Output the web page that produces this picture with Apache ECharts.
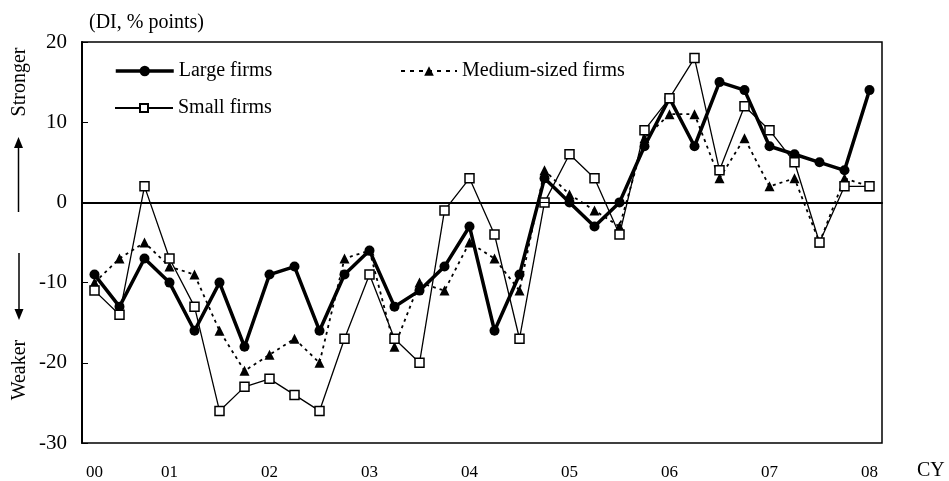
<!DOCTYPE html>
<html>
<head>
<meta charset="utf-8">
<script src="https://cdn.jsdelivr.net/npm/echarts@6/dist/echarts.min.js"></script>
<style>
html,body{margin:0;padding:0;background:#fff;}
#chart{width:949px;height:481px;}
</style>
</head>
<body>
<div id="chart"></div>
<script>
// Tick labels (years) and the data index at which each sits
var tickLabels = ['00','01','02','03','04','05','06','07','08'];
var tickIndex = [0, 3, 7, 11, 15, 19, 23, 27, 31];

// Series values (DI, % points)
var largeFirms = [-9,-13,-7,-10,-16,-10,-18,-9,-8,-16,-9,-6,-13,-11,-8,-3,-16,-9,3,0,-3,0,7,13,7,15,14,7,6,5,4,14];
var mediumFirms = [-10,-7,-5,-8,-9,-16,-21,-19,-17,-20,-7,-6,-18,-10,-11,-5,-7,-11,4,1,-1,-3,8,11,11,3,8,2,3,-5,3,2];
var smallFirms = [-11,-14,2,-7,-13,-26,-23,-22,-24,-26,-17,-9,-17,-20,-1,3,-4,-17,0,6,3,-4,9,13,18,4,12,9,5,-5,2,2];

var categories = largeFirms.map(function(_, i){
  var k = tickIndex.indexOf(i);
  return k >= 0 ? tickLabels[k] : '';
});

var FONT = 'Liberation Serif, Times New Roman, serif';
var chart = echarts.init(document.getElementById('chart'), null, {renderer:'canvas'});

var legendText = {fontFamily: FONT, fontSize: 20, color: '#000'};

var option = {
  animation: false,
  backgroundColor: '#fff',
  title: {
    text: '(DI, % points)',
    left: 84, top: 8,
    textStyle: {fontFamily: FONT, fontSize: 20, fontWeight: 'normal', color: '#000'}
  },
  grid: {
    left: 82, right: 67, top: 42, bottom: 34,
    show: true, borderColor: '#000', borderWidth: 1.5, backgroundColor: 'transparent'
  },
  legend: [
    {data: ['Large firms'], left: 114, top: 61, padding: 0, itemWidth: 58, itemHeight: 13,
     lineStyle: {width: 3.5}, textStyle: legendText, selectedMode: false},
    {data: ['Small firms'], left: 114, top: 98, padding: 0, itemWidth: 58, itemHeight: 10,
     textStyle: legendText, selectedMode: false},
    {data: ['Medium-sized firms'], left: 400, top: 61, padding: 0, itemWidth: 56, itemHeight: 12,
     lineStyle: {type: [4, 5]}, textStyle: legendText, selectedMode: false}
  ],
  xAxis: {
    type: 'category',
    data: categories,
    boundaryGap: true,
    axisLine: {lineStyle: {color: '#000', width: 2}},
    axisTick: {show: false},
    axisLabel: {interval: 0, color: '#000', fontFamily: FONT, fontSize: 17, margin: 21},
    splitLine: {show: false}
  },
  yAxis: {
    type: 'value',
    min: -30, max: 20, interval: 10,
    axisLine: {show: true, lineStyle: {color: '#000', width: 2}},
    axisTick: {show: true, inside: true, length: 6, lineStyle: {color: '#000', width: 1}},
    axisLabel: {color: '#000', fontFamily: FONT, fontSize: 21, margin: 15},
    splitLine: {show: false}
  },
  graphic: [
    {type: 'text', x: 20, y: 82, rotation: Math.PI / 2,
     style: {text: 'Stronger', fontFamily: FONT, fontSize: 20, fill: '#000', align: 'center', verticalAlign: 'middle'}},
    {type: 'line', shape: {x1: 18.5, y1: 212, x2: 18.5, y2: 146}, style: {stroke: '#000', lineWidth: 1.5}},
    {type: 'polygon', shape: {points: [[18.5, 137], [14, 148], [23, 148]]}, style: {fill: '#000'}},
    {type: 'text', x: 20, y: 370, rotation: Math.PI / 2,
     style: {text: 'Weaker', fontFamily: FONT, fontSize: 20, fill: '#000', align: 'center', verticalAlign: 'middle'}},
    {type: 'line', shape: {x1: 19, y1: 253, x2: 19, y2: 311}, style: {stroke: '#000', lineWidth: 1.5}},
    {type: 'polygon', shape: {points: [[19, 320], [14.5, 309], [23.5, 309]]}, style: {fill: '#000'}},
    {type: 'text', x: 917, y: 461,
     style: {text: 'CY', fontFamily: FONT, fontSize: 20, fill: '#000', align: 'left', verticalAlign: 'top'}}
  ],
  series: [
    {
      name: 'Large firms', type: 'line', data: largeFirms,
      symbol: 'circle', symbolSize: 10,
      lineStyle: {color: '#000', width: 3.5},
      itemStyle: {color: '#000'},
      markLine: {
        silent: true, symbol: 'none', label: {show: false},
        lineStyle: {color: '#000', width: 1, type: 'solid'},
        data: [{yAxis: 0}]
      },
      z: 2
    },
    {
      name: 'Medium-sized firms', type: 'line', data: mediumFirms,
      symbol: 'triangle', symbolSize: 10,
      lineStyle: {color: '#000', width: 1.8, type: [3, 4]},
      itemStyle: {color: '#000'},
      z: 3
    },
    {
      name: 'Small firms', type: 'line', data: smallFirms,
      symbol: 'rect', symbolSize: 9,
      lineStyle: {color: '#000', width: 1.3},
      itemStyle: {color: '#fff', borderColor: '#000', borderWidth: 1.5},
      z: 4
    }
  ]
};
chart.setOption(option);
</script>
</body>
</html>
